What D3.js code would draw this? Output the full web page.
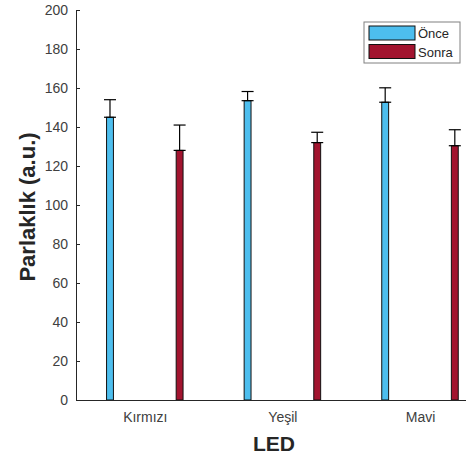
<!DOCTYPE html>
<html><head><meta charset="utf-8">
<script src="https://cdn.jsdelivr.net/npm/d3@7"></script>
<style>body{margin:0;background:#fff;} svg{display:block;font-family:"Liberation Sans",Arial,sans-serif;}</style>
</head><body>
<script>
const categories = ["Kırmızı", "Yeşil", "Mavi"];
const seriesNames = ["Önce", "Sonra"];
const onceValues = [145, 153.5, 152.7];
const sonraValues = [128, 132, 130.4];
const onceErrors = [9, 4.7, 7.4];
const sonraErrors = [13, 5.3, 8.2];
const yTicks = [0, 20, 40, 60, 80, 100, 120, 140, 160, 180, 200];
const colors = ["#4DBEEE", "#A2142F"];

(function () {
const W = 466, H = 461;
const mLeft = 76, mTop = 10, mBottom = 400;
const svg = d3.select("body").append("svg").attr("width", W).attr("height", H);

const x = d3.scaleLinear().domain([0.5, 3.5]).range([mLeft, mLeft + 3 * 137.6]);
const y = d3.scaleLinear().domain([0, 200]).range([mBottom, mTop]);

const series = [
  {name: seriesNames[0], values: onceValues, errs: onceErrors, color: colors[0], off: -0.253},
  {name: seriesNames[1], values: sonraValues, errs: sonraErrors, color: colors[1], off: 0.253}
];
const bw = 0.05;

series.forEach(s => {
  const g = svg.append("g");
  s.values.forEach((v, i) => {
    const cx = i + 1 + s.off;
    g.append("rect")
      .attr("x", x(cx - bw / 2)).attr("width", x(cx + bw / 2) - x(cx - bw / 2))
      .attr("y", y(v)).attr("height", y(0) - y(v))
      .attr("fill", s.color).attr("stroke", "#111").attr("stroke-width", 1);
    const px = x(cx), cap = 6;
    const e = s.errs[i];
    g.append("line").attr("x1", px).attr("x2", px).attr("y1", y(v)).attr("y2", y(v + e))
      .attr("stroke", "#000").attr("stroke-width", 1.2);
    g.append("line").attr("x1", px - cap).attr("x2", px + cap).attr("y1", y(v + e)).attr("y2", y(v + e))
      .attr("stroke", "#000").attr("stroke-width", 1.2);
    g.append("line").attr("x1", px - cap).attr("x2", px + cap).attr("y1", y(v)).attr("y2", y(v))
      .attr("stroke", "#000").attr("stroke-width", 1.2);
  });
});

const yAxis = d3.axisLeft(y).tickValues(yTicks).tickSizeInner(-4).tickSizeOuter(0).tickPadding(8);
const gy = svg.append("g").attr("transform", `translate(${mLeft},0)`).call(yAxis);
gy.select(".domain").attr("stroke", "#262626");
gy.selectAll(".tick line").attr("stroke", "#262626");
gy.selectAll("text").attr("font-size", 14).attr("fill", "#404040").attr("font-family", "Liberation Sans, Arial, sans-serif");

const xAxis = d3.axisBottom(x).tickValues([1, 2, 3]).tickFormat((d) => categories[d - 1]).tickSizeInner(0).tickSizeOuter(0).tickPadding(12);
const gx = svg.append("g").attr("transform", `translate(0,${mBottom})`).call(xAxis);
gx.select(".domain").attr("stroke", "#262626");
gx.selectAll("text").attr("font-size", 14).attr("fill", "#404040").attr("font-family", "Liberation Sans, Arial, sans-serif");

svg.append("text").attr("x", 274).attr("y", 451).attr("text-anchor", "middle")
  .attr("font-size", 21).attr("font-weight", "bold").attr("fill", "#262626").text("LED");
svg.append("text").attr("transform", `translate(35,207) rotate(-90)`).attr("text-anchor", "middle")
  .attr("font-size", 22).attr("font-weight", "bold").attr("fill", "#262626").text("Parlaklık (a.u.)");

const lg = svg.append("g").attr("transform", "translate(364,22)");
lg.append("rect").attr("x", 0).attr("y", 0).attr("width", 96).attr("height", 41)
  .attr("fill", "#fff").attr("stroke", "#808080").attr("stroke-width", 1);
series.forEach((s, i) => {
  lg.append("rect").attr("x", 5).attr("y", 4 + i * 18.5).attr("width", 46).attr("height", 14)
    .attr("fill", s.color).attr("stroke", "#111").attr("stroke-width", 1);
  lg.append("text").attr("x", 54).attr("y", 16 + i * 18.5).attr("font-size", 13)
    .attr("fill", "#262626").text(s.name);
});
})();
</script>
</body></html>
